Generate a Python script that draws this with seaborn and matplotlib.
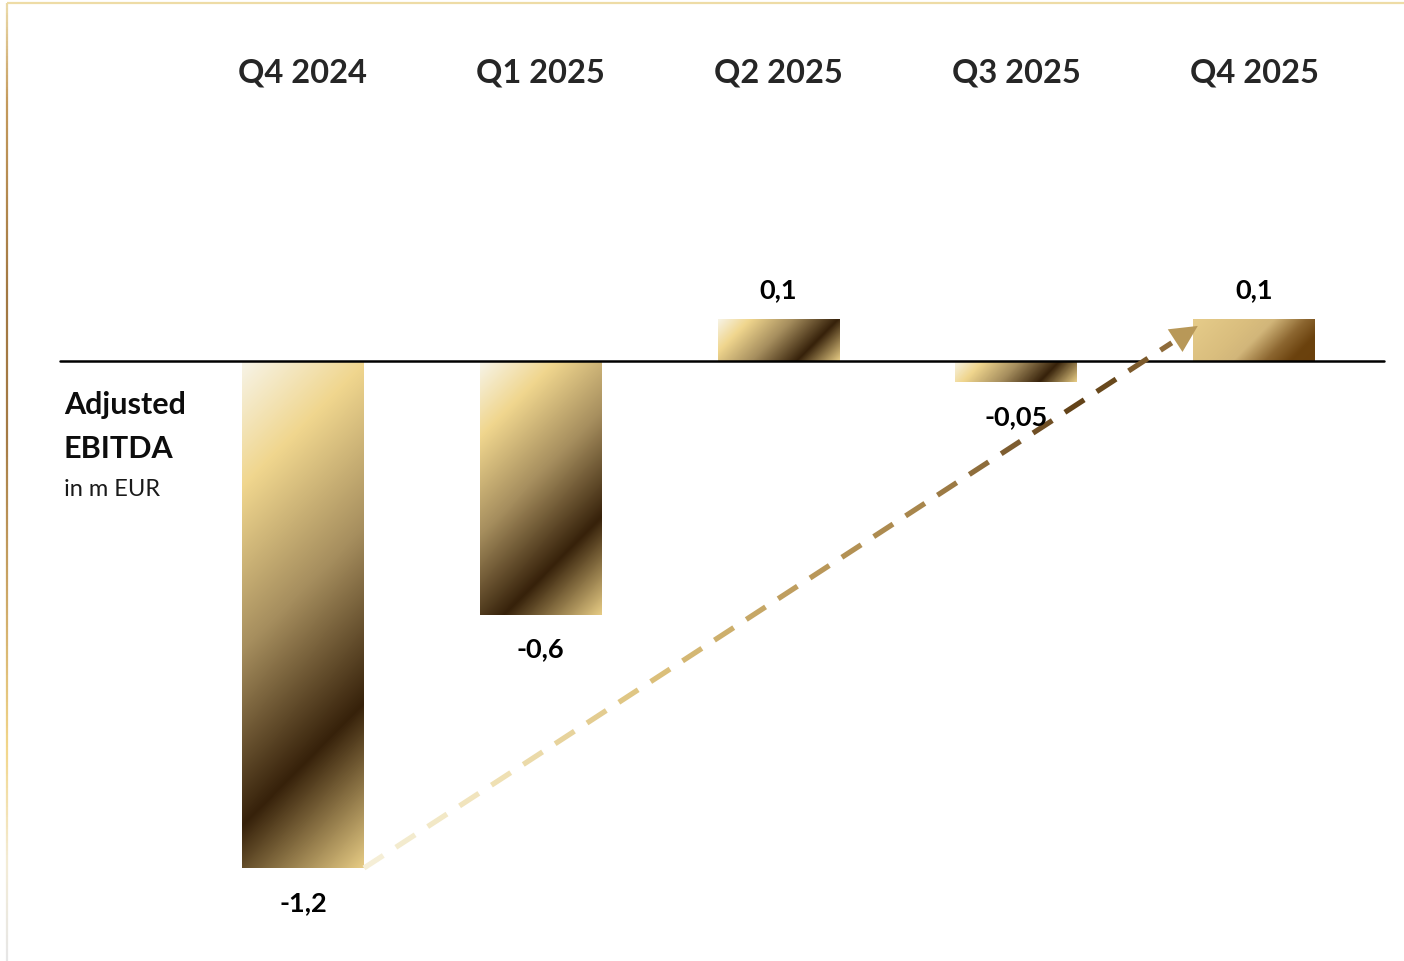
import numpy as np
import matplotlib
matplotlib.use("Agg")
import matplotlib.pyplot as plt
import seaborn as sns
from matplotlib.colors import LinearSegmentedColormap
from matplotlib.collections import LineCollection
from matplotlib.patches import Polygon

# Quarterly adjusted EBITDA (m EUR)
quarters = ["Q4 2024", "Q1 2025", "Q2 2025", "Q3 2025", "Q4 2025"]
ebitda = [-1.2, -0.6, 0.1, -0.05, 0.1]
title_lines = ["Adjusted", "EBITDA"]
unit_label = "in m EUR"


def fmt(v):
    return f"{v:g}".replace(".", ",")


value_labels = [fmt(v) for v in ebitda]

sns.set_theme(style="white")
plt.rcParams["font.family"] = ["Lato", "DejaVu Sans"]

W, H, DPI = 1404, 962, 100
fig = plt.figure(figsize=(W / DPI, H / DPI), dpi=DPI)
fig.patch.set_facecolor("white")
ax = fig.add_axes([0, 0, 1, 1])

bar_w = 0.513
sns.barplot(x=quarters, y=ebitda, ax=ax, width=bar_w, color="#C8A860",
            saturation=1, errorbar=None, edgecolor="none")

ax.set_xlim(-1.2744, 4.6309)
ax.set_ylim(-1.4201, 0.8568)
ax.set_autoscale_on(False)
ax.axis("off")

# Metallic gradients for the bars
gold = LinearSegmentedColormap.from_list("gold", [
    (0.00, "#F7F4E8"), (0.20, "#F0D68E"), (0.46, "#A68E5E"),
    (0.74, "#36210A"), (1.00, "#E6CB84")])
bronze = LinearSegmentedColormap.from_list("bronze", [
    (0.00, "#E6CC8A"), (0.35, "#DABE7E"), (0.50, "#D2B67A"),
    (0.70, "#8C6630"), (0.85, "#6B420E"), (1.00, "#6A400C")])

for i, patch in enumerate(ax.patches):
    x0, w = patch.get_x(), patch.get_width()
    y0, h = patch.get_y(), patch.get_height()
    ylo, yhi = min(y0, y0 + h), max(y0, y0 + h)
    px0, py0 = ax.transData.transform((x0, ylo))
    px1, py1 = ax.transData.transform((x0 + w, yhi))
    wp, hp = px1 - px0, py1 - py0
    nx, ny = max(int(wp) * 2, 2), max(int(hp) * 2, 2)
    xx = np.linspace(0, wp, nx)
    yy = np.linspace(0, hp, ny)
    t = (xx[None, :] + yy[:, None]) / (wp + hp)
    cmap = bronze if i == len(ebitda) - 1 else gold
    im = ax.imshow(t, cmap=cmap, vmin=0, vmax=1,
                   extent=(x0, x0 + w, ylo, yhi), origin="upper",
                   aspect="auto", interpolation="bilinear", zorder=2)
    im.set_clip_path(patch)
    patch.set_facecolor("none")

# Zero line
ax.axhline(0, xmin=60 / W, xmax=1384 / W, color="black", lw=1.8, zorder=4)

# Dashed trend arrow from the first bar to the last one
arrow_cmap = LinearSegmentedColormap.from_list("arrow", [
    (0.00, "#F5EFD8"), (0.15, "#F0E2B8"), (0.35, "#DCC07A"),
    (0.55, "#B89658"), (0.68, "#A5834A"), (0.80, "#75542A"),
    (0.87, "#5E3E14"), (1.00, "#A07C48")])
inv = ax.transData.inverted()
p_start = ax.transData.transform((0 + bar_w / 2, ebitda[0]))
p_tip = ax.transData.transform((len(ebitda) - 1 - bar_w / 2 + 0.02, ebitda[-1] * 0.83))
d = p_tip - p_start
L = np.hypot(*d)
u = d / L
nrm = np.array([-u[1], u[0]])
head_len, head_w = 27, 27
line_end = L - head_len - 4
dash, gap = 23, 15
segs, cols = [], []
s = 0.0
while s < line_end:
    e = min(s + dash, line_end)
    a = p_start + u * s
    b = p_start + u * e
    segs.append(inv.transform(np.vstack([a, b])))
    cols.append(arrow_cmap((s + e) / 2 / L))
    s += dash + gap
ax.add_collection(LineCollection(segs, colors=cols, linewidths=3.8,
                                 capstyle="butt", zorder=5))
base = p_tip - u * head_len
tri = np.vstack([p_tip, base + nrm * head_w / 2, base - nrm * head_w / 2])
ax.add_patch(Polygon(inv.transform(tri), closed=True, facecolor="#B89858",
                     edgecolor="none", zorder=5))

# Value labels
for i, (v, lab) in enumerate(zip(ebitda, value_labels)):
    off = 30 if v > 0 else -34
    ax.annotate(lab, (i, v), xytext=(0, off), textcoords="offset pixels",
                ha="center", va="center", fontsize=19.5, fontweight="bold",
                color="black", zorder=6)

# Quarter headers
for i, q in enumerate(quarters):
    ax.text(i, 1 - 73 / H, q, transform=ax.get_xaxis_transform(),
            ha="center", va="center", fontsize=23.5, fontweight="bold",
            color="#262626")

# Row title
fig.text(64 / W, 1 - 405 / H, title_lines[0], ha="left", va="center",
         fontsize=22, fontweight="bold", color="#0D0D0D")
fig.text(64 / W, 1 - 449 / H, title_lines[1], ha="left", va="center",
         fontsize=22, fontweight="bold", color="#0D0D0D")
fig.text(64 / W, 1 - 490 / H, unit_label, ha="left", va="center",
         fontsize=17, color="#1A1A1A")

# Gold frame on top and left
fig.add_artist(LineCollection([[(7 / W, 1 - 4 / H), (1, 1 - 4 / H)]],
                              colors=["#EEDCA6"], linewidths=1.6,
                              transform=fig.transFigure))
frame_cmap = LinearSegmentedColormap.from_list("frame", [
    (0.00, "#EAD9A8"), (0.10, "#C49A5C"), (0.30, "#A27842"),
    (0.45, "#A47A44"), (0.60, "#C8A262"), (0.78, "#F2D68A"),
    (0.90, "#F3ECD6"), (1.00, "#E6E6E6")])
ys = np.linspace(1 - 4 / H, 0, 400)
fsegs = [[(7 / W, ys[k]), (7 / W, ys[k + 1])] for k in range(len(ys) - 1)]
fcols = [frame_cmap(k / (len(ys) - 2)) for k in range(len(ys) - 1)]
fig.add_artist(LineCollection(fsegs, colors=fcols, linewidths=1.6,
                              transform=fig.transFigure))

fig.savefig("out.png", dpi=DPI, facecolor="white")
